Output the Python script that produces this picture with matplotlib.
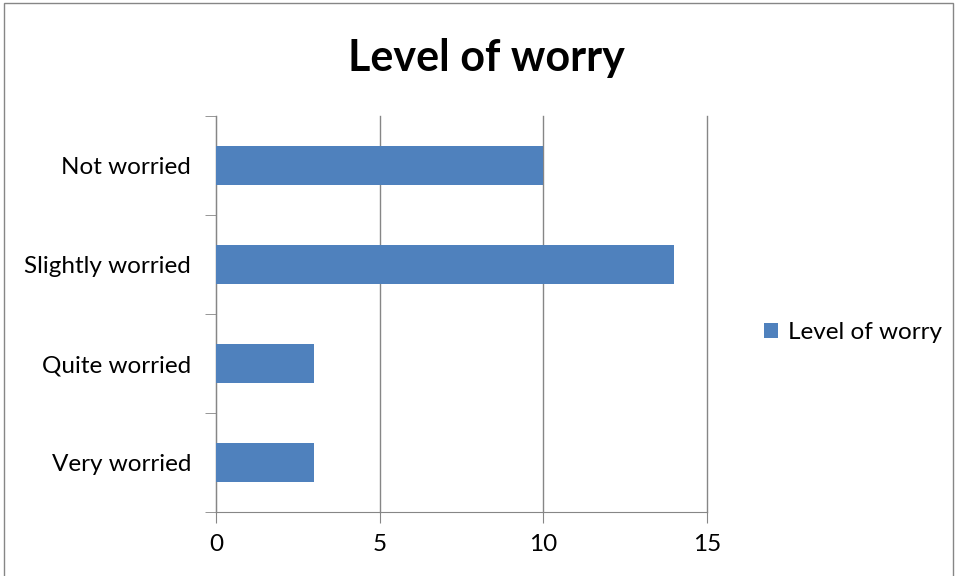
import matplotlib.pyplot as plt
from matplotlib.patches import Rectangle
from matplotlib.ticker import FixedLocator

# data
categories = ['Very worried', 'Quite worried', 'Slightly worried', 'Not worried']
values = [3, 3, 14, 10]
x_ticks = [0, 5, 10, 15]
series_name = 'Level of worry'

plt.rcParams['font.family'] = ['Lato', 'DejaVu Sans']

fig = plt.figure(figsize=(9.55, 5.76), dpi=100)
ax = fig.add_axes([0.2262, 0.1111, 0.5141, 0.6875])

ypos = list(range(len(categories)))
ax.barh(ypos, values, height=0.4, color='#4F81BD', label=series_name, zorder=3)

ax.set_xlim(0, 15)
ax.set_ylim(-0.5, len(categories) - 0.5)
ax.set_xticks(x_ticks)
ax.set_yticks(ypos)
ax.set_yticklabels(categories)
ax.yaxis.set_minor_locator(FixedLocator([i - 0.5 for i in range(len(categories) + 1)]))
ax.tick_params(axis='y', which='major', length=0, pad=18, labelsize=17.5)
ax.tick_params(axis='y', which='minor', length=8, direction='out', color='#868686')
ax.tick_params(axis='x', length=8, direction='out', color='#868686', labelsize=17.5, pad=8)

ax.grid(axis='x', color='#868686', linewidth=1, zorder=0)
for line in ax.get_xgridlines():
    line.set_clip_on(False)
for s in ['top', 'right']:
    ax.spines[s].set_visible(False)
for s in ['left', 'bottom']:
    ax.spines[s].set_color('#868686')

fig.text(0.509, 0.9, 'Level of worry', ha='center', va='center',
         fontsize=31, fontweight='bold')

fig.legend(loc='center left', bbox_to_anchor=(0.777, 0.423), frameon=False,
           fontsize=17.5, handlelength=0.6, handleheight=0.6, handletextpad=0.4)

# outer chart border
fig.patches.append(Rectangle((0.004, -0.01), 0.994, 1.004, transform=fig.transFigure,
                             fill=False, edgecolor='#868686', linewidth=1))

fig.savefig('out.png', dpi=100)
